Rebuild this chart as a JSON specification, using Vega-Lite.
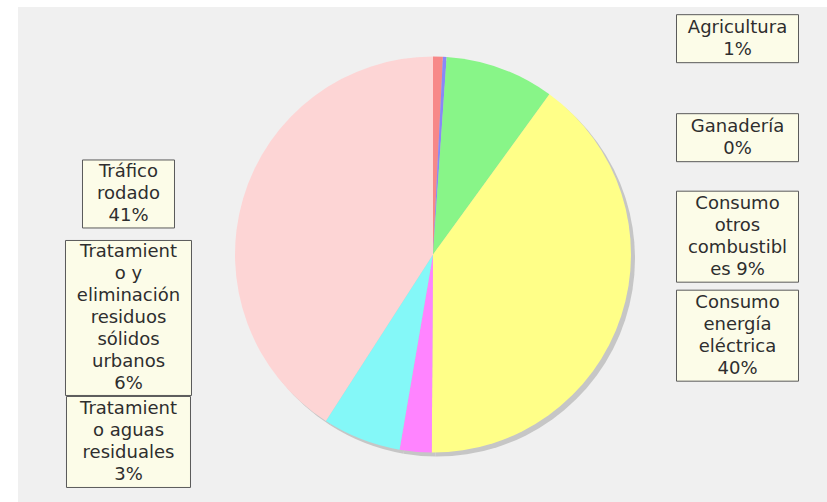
{
  "$schema": "https://vega.github.io/schema/vega-lite/v6.json",
  "width": 809,
  "height": 495,
  "autosize": {"type": "none"},
  "padding": {"left": 18, "top": 7, "right": 0, "bottom": 0},
  "background": "#ffffff",
  "config": {"view": {"fill": "#f0f0f0", "stroke": null}, "font": "DejaVu Sans"},
  "data": {
    "values": [
      {"orden": 1, "categoria": "Agricultura", "valor": 0.8, "etiqueta": "Agricultura\n1%"},
      {"orden": 2, "categoria": "Ganadería", "valor": 0.3, "etiqueta": "Ganadería\n0%"},
      {"orden": 3, "categoria": "Consumo otros combustibles", "valor": 8.9, "etiqueta": "Consumo\notros\ncombustibl\nes 9%"},
      {"orden": 4, "categoria": "Consumo energía eléctrica", "valor": 40.1, "etiqueta": "Consumo\nenergía\neléctrica\n40%"},
      {"orden": 5, "categoria": "Tratamiento aguas residuales", "valor": 2.6, "etiqueta": "Tratamient\no aguas\nresiduales\n3%"},
      {"orden": 6, "categoria": "Tratamiento y eliminación residuos sólidos urbanos", "valor": 6.4, "etiqueta": "Tratamient\no y\neliminación\nresiduos\nsólidos\nurbanos\n6%"},
      {"orden": 7, "categoria": "Tráfico rodado", "valor": 40.9, "etiqueta": "Tráfico\nrodado\n41%"}
    ]
  },
  "layer": [
    {
      "encoding": {
        "x": {"datum": "centro", "type": "nominal", "axis": null,
              "scale": {"type": "point", "domain": ["izquierda", "centro", "derecha"], "padding": 0.3284, "align": 0.5525}},
        "theta": {"field": "valor", "type": "quantitative", "stack": true},
        "order": {"field": "orden", "type": "quantitative"}
      },
      "layer": [
        {"mark": {"type": "arc", "outerRadius": 198, "xOffset": 4, "yOffset": 4, "color": "#c6c6c6", "stroke": null}},
        {
          "mark": {"type": "arc", "outerRadius": 198, "stroke": null},
          "encoding": {
            "color": {
              "field": "categoria", "type": "nominal", "legend": null,
              "scale": {
                "domain": ["Agricultura", "Ganadería", "Consumo otros combustibles", "Consumo energía eléctrica", "Tratamiento aguas residuales", "Tratamiento y eliminación residuos sólidos urbanos", "Tráfico rodado"],
                "range": ["#f78888", "#8888f8", "#88f588", "#ffff88", "#ff84ff", "#84f8f8", "#fdd5d5"]
              }
            }
          }
        }
      ]
    },
    {
      "transform": [{"filter": {"field": "categoria", "oneOf": ["Agricultura", "Ganadería", "Consumo otros combustibles", "Consumo energía eléctrica"]}}],
      "encoding": {
        "x": {"datum": "derecha", "type": "nominal", "axis": null,
              "scale": {"type": "point", "domain": ["izquierda", "centro", "derecha"], "padding": 0.3284, "align": 0.5525}},
        "y": {"field": "categoria", "type": "nominal", "axis": null,
              "scale": {"type": "point", "domain": ["Agricultura", "Ganadería", "Consumo otros combustibles", "Consumo energía eléctrica"], "padding": 1.19, "align": 0.16}}
      },
      "layer": [
        {
          "transform": [{"filter": {"field": "categoria", "oneOf": ["Agricultura", "Ganadería"]}}],
          "layer": [
            {"mark": {"type": "rect", "width": 122, "height": 48, "fill": "#fcfce8", "stroke": "#5a5a5a", "strokeWidth": 1}},
            {
              "mark": {"type": "text", "lineBreak": "\n", "fontSize": 18, "lineHeight": 22, "dy": -11, "color": "#2e2e2e", "align": "center", "baseline": "middle"},
              "encoding": {"text": {"field": "etiqueta", "type": "nominal"}}
            }
          ]
        },
        {
          "transform": [{"filter": {"field": "categoria", "oneOf": ["Consumo otros combustibles", "Consumo energía eléctrica"]}}],
          "layer": [
            {"mark": {"type": "rect", "width": 122, "height": 91, "fill": "#fcfce8", "stroke": "#5a5a5a", "strokeWidth": 1}},
            {
              "mark": {"type": "text", "lineBreak": "\n", "fontSize": 18, "lineHeight": 22, "dy": -33, "color": "#2e2e2e", "align": "center", "baseline": "middle"},
              "encoding": {"text": {"field": "etiqueta", "type": "nominal"}}
            }
          ]
        }
      ]
    },
    {
      "transform": [{"filter": {"field": "categoria", "oneOf": ["Tráfico rodado", "Tratamiento y eliminación residuos sólidos urbanos", "Tratamiento aguas residuales"]}}],
      "encoding": {
        "x": {"datum": "izquierda", "type": "nominal", "axis": null,
              "scale": {"type": "point", "domain": ["izquierda", "centro", "derecha"], "padding": 0.3284, "align": 0.5525}},
        "y": {"field": "categoria", "type": "nominal", "axis": null,
              "scale": {"type": "point", "domain": ["Tráfico rodado", "Tratamiento y eliminación residuos sólidos urbanos", "Tratamiento aguas residuales"], "padding": 0.996, "align": 0.757}}
      },
      "layer": [
        {
          "transform": [{"filter": {"field": "categoria", "equal": "Tráfico rodado"}}],
          "layer": [
            {"mark": {"type": "rect", "width": 92, "height": 68, "fill": "#fcfce8", "stroke": "#5a5a5a", "strokeWidth": 1}},
            {
              "mark": {"type": "text", "lineBreak": "\n", "fontSize": 18, "lineHeight": 22, "dy": -22, "color": "#2e2e2e", "align": "center", "baseline": "middle"},
              "encoding": {"text": {"field": "etiqueta", "type": "nominal"}}
            }
          ]
        },
        {
          "transform": [{"filter": {"field": "categoria", "equal": "Tratamiento y eliminación residuos sólidos urbanos"}}],
          "layer": [
            {"mark": {"type": "rect", "width": 126, "height": 155, "fill": "#fcfce8", "stroke": "#5a5a5a", "strokeWidth": 1}},
            {
              "mark": {"type": "text", "lineBreak": "\n", "fontSize": 18, "lineHeight": 22, "dy": -66, "color": "#2e2e2e", "align": "center", "baseline": "middle"},
              "encoding": {"text": {"field": "etiqueta", "type": "nominal"}}
            }
          ]
        },
        {
          "transform": [{"filter": {"field": "categoria", "equal": "Tratamiento aguas residuales"}}],
          "layer": [
            {"mark": {"type": "rect", "width": 124, "height": 91, "fill": "#fcfce8", "stroke": "#5a5a5a", "strokeWidth": 1}},
            {
              "mark": {"type": "text", "lineBreak": "\n", "fontSize": 18, "lineHeight": 22, "dy": -33, "color": "#2e2e2e", "align": "center", "baseline": "middle"},
              "encoding": {"text": {"field": "etiqueta", "type": "nominal"}}
            }
          ]
        }
      ]
    }
  ],
  "resolve": {"scale": {"y": "independent"}}
}
